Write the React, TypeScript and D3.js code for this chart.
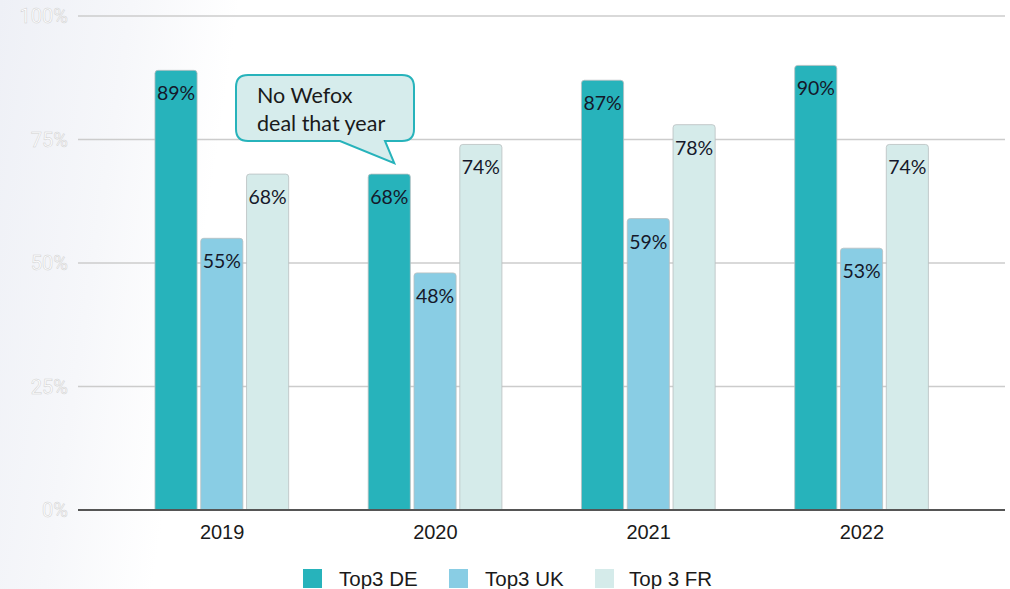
import React from "react";
import * as d3 from "d3";

const years = ["2019", "2020", "2021", "2022"];
const seriesNames = ["Top3 DE", "Top3 UK", "Top 3 FR"];
const seriesColors = ["#27b3bb", "#89cde4", "#d5ebea"];
const topDE = [89, 68, 87, 90];
const topUK = [55, 48, 59, 53];
const topFR = [68, 74, 78, 74];
const yTicks = [0, 25, 50, 75, 100];
const calloutLines = ["No Wefox", "deal that year"];

const W = 1010;
const H = 589;

function topRoundedRect(x: number, y: number, w: number, h: number, r: number) {
  const rr = Math.min(r, h, w / 2);
  return `M${x},${y + h}V${y + rr}Q${x},${y} ${x + rr},${y}H${x + w - rr}Q${x + w},${y} ${x + w},${y + rr}V${y + h}Z`;
}

export default function App() {
  const values = [topDE, topUK, topFR];
  const y = d3.scaleLinear().domain([0, 100]).range([510, 16]);
  const x0 = d3.scaleBand<string>().domain(years).range([115.5, 968.5]).padding(0);
  const bw0 = x0.bandwidth();
  const x1 = d3
    .scaleBand<string>()
    .domain(seriesNames)
    .range([bw0 * 0.185, bw0 * 0.812])
    .paddingInner(0.08)
    .paddingOuter(0);
  const gridX0 = 78;
  const gridX1 = 1005;

  const cx = (x0("2020") as number) + (x1("Top3 DE") as number) + x1.bandwidth() / 2;
  const tipY = y(topDE[1]) - 11;
  const boxL = 236, boxR = 414, boxT = 75, boxB = 141, br = 12;
  const tailA = 340, tailB = 385;
  const calloutPath = `M${boxL + br},${boxT}H${boxR - br}Q${boxR},${boxT} ${boxR},${boxT + br}V${boxB - br}Q${boxR},${boxB} ${boxR - br},${boxB}H${tailB}L${cx + 5},${tipY}L${tailA},${boxB}H${boxL + br}Q${boxL},${boxB} ${boxL},${boxB - br}V${boxT + br}Q${boxL},${boxT} ${boxL + br},${boxT}Z`;

  const legendItems = [
    { sq: 303, tx: 339 },
    { sq: 449, tx: 485 },
    { sq: 595, tx: 629 },
  ];

  return (
    <svg
      width={W}
      height={H}
      style={{ position: "absolute", left: 0, top: 0, display: "block" }}
    >
      <defs>
        <linearGradient id="bg" gradientUnits="userSpaceOnUse" x1={0} y1={0} x2={235} y2={35}>
          <stop offset="0" stopColor="#eef0f6" />
          <stop offset="0.55" stopColor="#f6f7fa" />
          <stop offset="1" stopColor="#ffffff" />
        </linearGradient>
      </defs>
      <rect x={0} y={0} width={W} height={H} fill="url(#bg)" />

      {yTicks.map((t) => (
        <g key={t}>
          {t !== 0 && (
            <line x1={gridX0} x2={gridX1} y1={y(t)} y2={y(t)} stroke="#cccccc" strokeWidth={1.5} />
          )}
          <text
            x={68}
            y={y(t)}
            dy="0.35em"
            textAnchor="end"
            fontFamily="Roboto, sans-serif"
            fontSize={20}
            fill="#ffffff"
            stroke="#cfcfcf"
            strokeWidth={0.5}
          >
            {t}%
          </text>
        </g>
      ))}

      {years.map((yr, i) => (
        <g key={yr} transform={`translate(${x0(yr)},0)`}>
          {seriesNames.map((s, j) => {
            const v = values[j][i];
            const bx = x1(s) as number;
            const bw = x1.bandwidth();
            const top = y(v);
            return (
              <g key={s}>
                <path
                  d={topRoundedRect(bx, top, bw, y(0) - top, 3)}
                  fill={seriesColors[j]}
                  stroke="#b9bfc0"
                  strokeWidth={0.8}
                />
                <text
                  x={bx + bw / 2}
                  y={top + 30}
                  textAnchor="middle"
                  fontFamily="Lato, sans-serif"
                  fontSize={19.5}
                  fill="#15182a"
                >
                  {v}%
                </text>
              </g>
            );
          })}
          <text
            x={bw0 / 2}
            y={539}
            textAnchor="middle"
            fontFamily="Liberation Sans, Arial, sans-serif"
            fontSize={20}
            fill="#1a1a1a"
          >
            {yr}
          </text>
        </g>
      ))}

      <line x1={gridX0} x2={gridX1} y1={y(0)} y2={y(0)} stroke="#555555" strokeWidth={2} />

      <path d={calloutPath} fill="#d6ecec" stroke="#27b3bb" strokeWidth={2} />
      {calloutLines.map((l, i) => (
        <text
          key={l}
          x={257}
          y={103 + i * 28}
          fontFamily="Lato, sans-serif"
          fontSize={21.5}
          fill="#1a1a1a"
        >
          {l}
        </text>
      ))}

      {seriesNames.map((s, j) => (
        <g key={s}>
          <rect x={legendItems[j].sq} y={569} width={19} height={19} fill={seriesColors[j]} />
          <text
            x={legendItems[j].tx}
            y={586}
            fontFamily="Liberation Sans, Arial, sans-serif"
            fontSize={20.5}
            fill="#1a1a1a"
          >
            {s}
          </text>
        </g>
      ))}
    </svg>
  );
}
